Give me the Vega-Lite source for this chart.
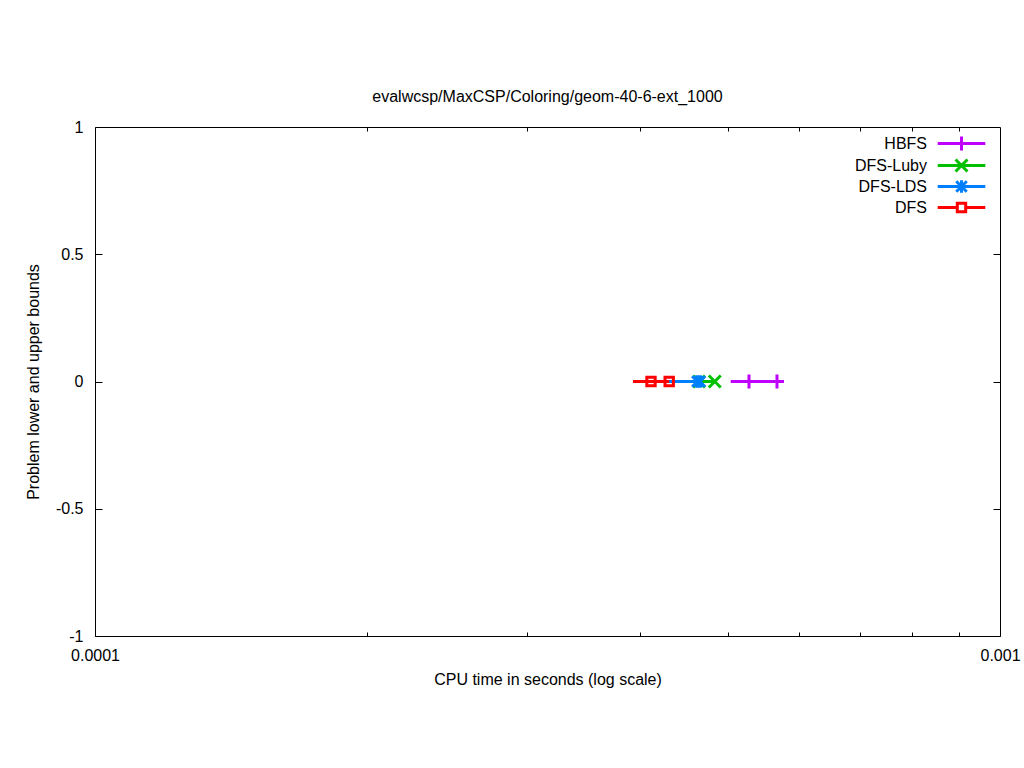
{
  "$schema": "https://vega.github.io/schema/vega-lite/v6.json",
  "width": 905,
  "height": 509,
  "autosize": {"type": "none"},
  "padding": {"left": 95, "top": 127, "right": 24, "bottom": 132},
  "background": "white",
  "title": {"text": "evalwcsp/MaxCSP/Coloring/geom-40-6-ext_1000", "fontSize": 16, "fontWeight": "normal", "font": "Liberation Sans", "offset": 14, "color": "black"},
  "config": {
    "view": {"stroke": "black", "strokeWidth": 1},
    "font": "Liberation Sans",
    "axis": {"labelFont": "Liberation Sans", "titleFont": "Liberation Sans", "labelFontSize": 16, "titleFontSize": 16, "titleFontWeight": "normal", "labelColor": "black", "titleColor": "black", "tickColor": "black", "grid": false, "domain": false},
    "legend": {"labelFont": "Liberation Sans", "labelFontSize": 16, "labelColor": "black", "symbolStrokeWidth": 3, "symbolSize": 196}
  },
  "data": {"values": [
    {"series": "HBFS", "t": 0.000504, "b": 0, "m": 0},
    {"series": "HBFS", "t": 0.000528, "b": 0, "m": 1},
    {"series": "HBFS", "t": 0.000567, "b": 0, "m": 1},
    {"series": "HBFS", "t": 0.000576, "b": 0, "m": 0},
    {"series": "DFS-Luby", "t": 0.000465, "b": 0, "m": 1},
    {"series": "DFS-Luby", "t": 0.000484, "b": 0, "m": 1},
    {"series": "DFS-LDS", "t": 0.000430, "b": 0, "m": 0},
    {"series": "DFS-LDS", "t": 0.000463, "b": 0, "m": 1},
    {"series": "DFS-LDS", "t": 0.000466, "b": 0, "m": 1},
    {"series": "DFS", "t": 0.000393, "b": 0, "m": 0},
    {"series": "DFS", "t": 0.0004115, "b": 0, "m": 1},
    {"series": "DFS", "t": 0.000431, "b": 0, "m": 1}
  ]},
  "resolve": {"axis": {"x": "independent", "y": "independent"}, "scale": {"shape": "independent"}, "legend": {"color": "independent", "shape": "independent"}},
  "layer": [
    {
      "mark": {"type": "line", "strokeWidth": 3, "clip": true},
      "encoding": {
        "x": {"field": "t", "type": "quantitative",
          "scale": {"type": "log", "domain": [0.0001, 0.001], "nice": false},
          "axis": {"orient": "bottom", "values": [0.0001, 0.0002, 0.0003, 0.0004, 0.0005, 0.0006, 0.0007, 0.0008, 0.0009, 0.001],
            "labelExpr": "datum.value < 0.00015 ? '0.0001' : (datum.value > 0.00095 ? '0.001' : '')",
            "tickSize": -4, "labelPadding": 15, "title": "CPU time in seconds (log scale)", "titlePadding": 8, "labelFlush": false, "labelOverlap": false}},
        "y": {"field": "b", "type": "quantitative",
          "scale": {"domain": [-1, 1], "nice": false, "zero": false},
          "axis": {"orient": "left", "values": [-1, -0.5, 0, 0.5, 1], "labelExpr": "'' + datum.value", "tickSize": -7, "labelPadding": 19, "title": "Problem lower and upper bounds", "titlePadding": 14, "labelFlush": false, "labelOverlap": false}},
        "color": {"field": "series", "type": "nominal",
          "scale": {"domain": ["HBFS", "DFS-Luby", "DFS-LDS", "DFS"], "range": ["#C000FF", "#00C000", "#0080FF", "#FF0000"]},
          "legend": null},
        "detail": {"field": "series"}
      }
    },
    {
      "transform": [{"filter": "datum.m == 1"}],
      "mark": {"type": "point", "filled": false, "strokeWidth": 3, "size": 196, "opacity": 1, "clip": true},
      "encoding": {
        "x": {"field": "t", "type": "quantitative",
          "axis": {"orient": "top", "values": [0.0002, 0.0003, 0.0004, 0.0005, 0.0006, 0.0007, 0.0008, 0.0009], "labels": false, "tickSize": -4, "title": null}},
        "y": {"field": "b", "type": "quantitative",
          "axis": {"orient": "right", "values": [-0.5, 0, 0.5], "labels": false, "tickSize": -7, "title": null}},
        "color": {"field": "series", "type": "nominal", "legend": null},
        "shape": {"field": "series", "type": "nominal",
          "scale": {"domain": ["HBFS", "DFS-Luby", "DFS-LDS", "DFS"], "range": ["M-1,0H1M0,-1V1", "M-0.85,-0.85L0.85,0.85M-0.85,0.85L0.85,-0.85", "M0,-0.9V0.9M-0.75,-0.75L0.75,0.75M-0.75,0.75L0.75,-0.75", "M-0.6,-0.6H0.6V0.6H-0.6Z"]},
          "legend": null}
      }
    },
    {
      "transform": [{"filter": "datum.m == 2"}],
      "mark": {"type": "point", "filled": false, "strokeWidth": 3, "size": 196, "opacity": 1},
      "encoding": {
        "x": {"field": "t", "type": "quantitative", "axis": null},
        "y": {"field": "b", "type": "quantitative", "axis": null},
        "color": {"field": "series", "type": "nominal",
          "legend": {"title": null, "orient": "none", "legendX": 858, "legendY": 8, "labelAlign": "right", "labelOffset": -43, "rowPadding": -7, "symbolSize": 196, "symbolStrokeWidth": 3}},
        "shape": {"field": "series", "type": "nominal",
          "scale": {"domain": ["HBFS", "DFS-Luby", "DFS-LDS", "DFS"], "range": ["M-3.4,0H3.4M0,-1V1", "M-3.4,0H3.4M-0.85,-0.85L0.85,0.85M-0.85,0.85L0.85,-0.85", "M-3.4,0H3.4M0,-0.9V0.9M-0.75,-0.75L0.75,0.75M-0.75,0.75L0.75,-0.75", "M-3.4,0H-0.6M0.6,0H3.4M-0.6,-0.6H0.6V0.6H-0.6Z"]},
          "legend": {"title": null, "orient": "none", "legendX": 858, "legendY": 8, "labelAlign": "right", "labelOffset": -43, "rowPadding": -7, "symbolSize": 196, "symbolStrokeWidth": 3}}
      }
    }
  ]
}
